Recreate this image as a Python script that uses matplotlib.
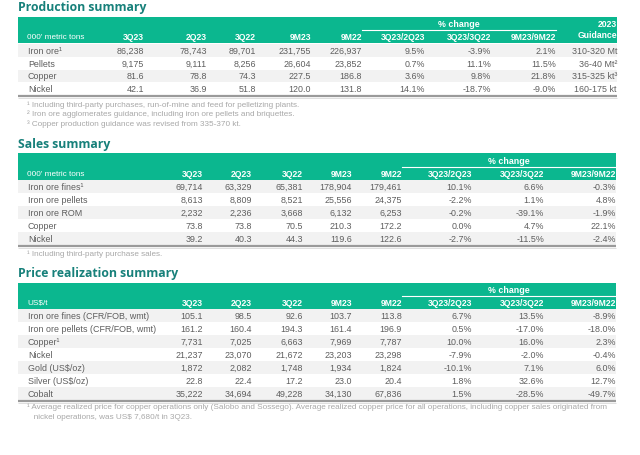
import matplotlib.pyplot as plt
from matplotlib.patches import Rectangle

# ---------------- data ----------------
prod_cols = ["3Q23", "2Q23", "3Q22", "9M23", "9M22", "3Q23/2Q23", "3Q23/3Q22", "9M23/9M22", "Guidance"]
prod_rows = ["Iron ore\u00b9", "Pellets", "Copper", "Nickel"]
prod_3q23 = ["86,238", "9,175", "81.6", "42.1"]
prod_2q23 = ["78,743", "9,111", "78.8", "36.9"]
prod_3q22 = ["89,701", "8,256", "74.3", "51.8"]
prod_9m23 = ["231,755", "26,604", "227.5", "120.0"]
prod_9m22 = ["226,937", "23,852", "186.8", "131.8"]
prod_qoq = ["9.5%", "0.7%", "3.6%", "14.1%"]
prod_yoy = ["-3.9%", "11.1%", "9.8%", "-18.7%"]
prod_ytd = ["2.1%", "11.5%", "21.8%", "-9.0%"]
prod_guid = ["310-320 Mt", "36-40 Mt\u00b2", "315-325 kt\u00b3", "160-175 kt"]
prod_notes = ["\u00b9 Including third-party purchases, run-of-mine and feed for pelletizing plants.",
              "\u00b2 Iron ore agglomerates guidance, including iron ore pellets and briquettes.",
              "\u00b3 Copper production guidance was revised from 335-370 kt."]

sales_cols = ["3Q23", "2Q23", "3Q22", "9M23", "9M22", "3Q23/2Q23", "3Q23/3Q22", "9M23/9M22"]
sales_rows = ["Iron ore fines\u00b9", "Iron ore pellets", "Iron ore ROM", "Copper", "Nickel"]
sales_3q23 = ["69,714", "8,613", "2,232", "73.8", "39.2"]
sales_2q23 = ["63,329", "8,809", "2,236", "73.8", "40.3"]
sales_3q22 = ["65,381", "8,521", "3,668", "70.5", "44.3"]
sales_9m23 = ["178,904", "25,556", "6,132", "210.3", "119.6"]
sales_9m22 = ["179,461", "24,375", "6,253", "172.2", "122.6"]
sales_qoq = ["10.1%", "-2.2%", "-0.2%", "0.0%", "-2.7%"]
sales_yoy = ["6.6%", "1.1%", "-39.1%", "4.7%", "-11.5%"]
sales_ytd = ["-0.3%", "4.8%", "-1.9%", "22.1%", "-2.4%"]
sales_notes = ["\u00b9 Including third-party purchase sales."]

price_cols = sales_cols
price_rows = ["Iron ore fines (CFR/FOB, wmt)", "Iron ore pellets (CFR/FOB, wmt)", "Copper\u00b9",
              "Nickel", "Gold (US$/oz)", "Silver (US$/oz)", "Cobalt"]
price_3q23 = ["105.1", "161.2", "7,731", "21,237", "1,872", "22.8", "35,222"]
price_2q23 = ["98.5", "160.4", "7,025", "23,070", "2,082", "22.4", "34,694"]
price_3q22 = ["92.6", "194.3", "6,663", "21,672", "1,748", "17.2", "49,228"]
price_9m23 = ["103.7", "161.4", "7,969", "23,203", "1,934", "23.0", "34,130"]
price_9m22 = ["113.8", "196.9", "7,787", "23,298", "1,824", "20.4", "67,836"]
price_qoq = ["6.7%", "0.5%", "10.0%", "-7.9%", "-10.1%", "1.8%", "1.5%"]
price_yoy = ["13.5%", "-17.0%", "16.0%", "-2.0%", "7.1%", "32.6%", "-28.5%"]
price_ytd = ["-8.9%", "-18.0%", "2.3%", "-0.4%", "6.0%", "12.7%", "-49.7%"]
price_notes = ["\u00b9 Average realized price for copper operations only (Salobo and Sossego). Average realized copper price for all operations, including copper sales originated from",
               "   nickel operations, was US$ 7,680/t in 3Q23."]

# ---------------- style ----------------
green = '#0BB78F'
title_teal = '#17807A'
body_gray = '#5E5E5E'
note_gray = '#A8A8A8'
band_gray = '#F2F2F2'
FS = 5.9
font = 'Liberation Sans'

fig = plt.figure(figsize=(6.4, 4.56), dpi=100)
ax = fig.add_axes([0, 0, 1, 1])
ax.set_xlim(0, 640)
ax.set_ylim(456, 0)
ax.axis('off')

x0 = 18


def draw_section(title, title_y, head_top, head_bot, unit, cols, col_right, rows, columns,
                 row_y0, row_h, notes, note_y0, note_h, pct_line, right):
    ax.text(x0, title_y, title, ha='left', va='center', fontsize=8.8, fontweight='bold',
            color=title_teal, family='Open Sans')
    ax.add_patch(Rectangle((x0, head_top), right - x0, head_bot - head_top,
                           facecolor=green, edgecolor='none'))
    hy = head_bot - 6.5
    ax.text(x0 + 9, hy, unit, ha='left', va='center', fontsize=FS, color='white', family=font)
    for c, xr in zip(cols, col_right):
        if c == "Guidance":
            ax.text(xr, hy - 2, c, ha='right', va='center', fontsize=FS + 0.3,
                    fontweight='bold', color='white', family=font)
            ax.text(xr, hy - 13, "2023", ha='right', va='center', fontsize=FS + 0.3,
                    fontweight='bold', color='white', family=font)
        else:
            ax.text(xr, hy, c, ha='right', va='center', fontsize=FS + 0.3,
                    fontweight='bold', color='white', family=font)
    # % change group label
    lx0, lx1 = pct_line
    ax.plot([lx0, lx1], [hy - 7, hy - 7], color='white', lw=0.8)
    ax.text((lx0 + lx1) / 2, hy - 13, "% change", ha='center', va='center', fontsize=FS + 0.5,
            fontweight='bold', color='white', family=font)
    # rows
    for i, name in enumerate(rows):
        y = row_y0 + i * row_h
        if i % 2 == 0:
            ax.add_patch(Rectangle((x0, y - row_h / 2), right - x0, row_h,
                                   facecolor=band_gray, edgecolor='none'))
        ax.text(x0 + 10, y, name, ha='left', va='center', fontsize=FS + 0.5,
                color=body_gray, family=font)
        for vals, xr in zip(columns, col_right):
            ax.text(xr, y, vals[i], ha='right', va='center', fontsize=FS + 0.5,
                    color=body_gray, family=font)
    bottom = row_y0 + (len(rows) - 0.5) * row_h + 1
    ax.plot([x0, right], [bottom, bottom], color='#9A9A9A', lw=1.6, solid_capstyle='butt')
    ax.plot([x0, right], [bottom + 1.6, bottom + 1.6], color='#D9D9D9', lw=0.6,
            solid_capstyle='butt')
    for j, note in enumerate(notes):
        ax.text(x0 + 9, note_y0 + j * note_h, note, ha='left', va='center', fontsize=FS,
                color=note_gray, family=font)


draw_section("Production summary", 8, 18, 44, "000' metric tons", prod_cols,
             [144, 207, 256, 311, 362, 425, 491, 556, 617], prod_rows,
             [prod_3q23, prod_2q23, prod_3q22, prod_9m23, prod_9m22,
              prod_qoq, prod_yoy, prod_ytd, prod_guid],
             51.5, 12.7, prod_notes, 105, 9.5, (362, 556), 617)

draw_section("Sales summary", 144.5, 154, 181, "000' metric tons", sales_cols,
             [203, 252, 303, 352, 402, 472, 544, 616], sales_rows,
             [sales_3q23, sales_2q23, sales_3q22, sales_9m23, sales_9m22,
              sales_qoq, sales_yoy, sales_ytd],
             187.5, 13.0, sales_notes, 254, 9.5, (402, 616), 616)

draw_section("Price realization summary", 273.5, 284, 310, "US$/t", price_cols,
             [203, 252, 303, 352, 402, 472, 544, 616], price_rows,
             [price_3q23, price_2q23, price_3q22, price_9m23, price_9m22,
              price_qoq, price_yoy, price_ytd],
             316.7, 13.0, price_notes, 407.5, 10, (402, 616), 616)

fig.savefig('out.png', dpi=100, facecolor='white')
